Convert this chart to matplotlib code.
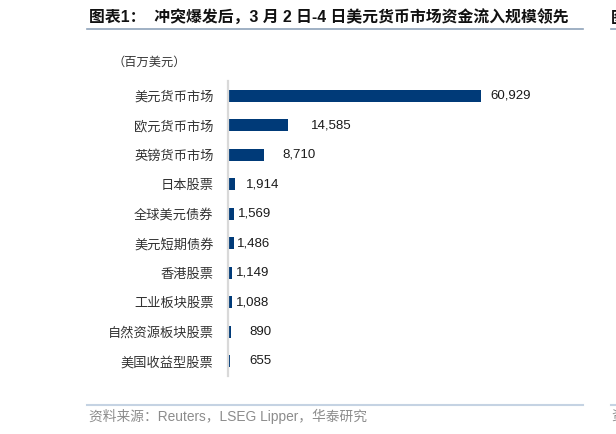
import matplotlib
matplotlib.use("Agg")
import matplotlib.pyplot as plt
from matplotlib.lines import Line2D

# ---- data ----
categories = ["美元货币市场", "欧元货币市场", "英镑货币市场", "日本股票", "全球美元债券",
              "美元短期债券", "香港股票", "工业板块股票", "自然资源板块股票", "美国收益型股票"]
values = [60929, 14585, 8710, 1914, 1569, 1486, 1149, 1088, 890, 655]
title = "图表1：  冲突爆发后，3 月 2 日-4 日美元货币市场资金流入规模领先"
unit_label = "（百万美元）"
source = "资料来源：Reuters，LSEG Lipper，华泰研究"

# ---- style ----
W, H = 616, 434
label_offsets_px = [10, 23, 19, 11, 4, 3, 4, 4, 18, 19]
bar_color = "#003A78"
XMAX = 80000
px_per_max = 253  # pixel length of the longest bar

fig = plt.figure(figsize=(W / 100, H / 100), dpi=100)
ax_left, ax_top, ax_bottom = 227.5, 81, 376
ax_width = XMAX / values[0] * px_per_max
ax = fig.add_axes([ax_left / W, 1 - ax_bottom / H, ax_width / W, (ax_bottom - ax_top) / H])

n = len(categories)
ypos = list(range(n))
ax.barh(ypos, values, height=0.41, color=bar_color)
ax.set_ylim(n - 0.5, -0.5)
ax.set_xlim(0, XMAX)
ax.set_xticks([])
ax.set_yticks(ypos)
ax.set_yticklabels(categories, fontsize=9.5, family=["Noto Sans CJK SC", "DejaVu Sans"], color="#333333")
ax.tick_params(axis="y", length=0, pad=10)
for s in ["top", "right", "bottom"]:
    ax.spines[s].set_visible(False)
ax.spines["left"].set_color("#D9D9D9")
ax.spines["left"].set_linewidth(1.6)

for i, (v, off) in enumerate(zip(values, label_offsets_px)):
    ax.annotate(f"{v:,}", xy=(v, i), xytext=(off, 0), textcoords="offset pixels",
                ha="left", va="center", fontsize=9.5, family="Liberation Sans", color="#1a1a1a")

# ---- figure decorations ----
fam = ["Liberation Sans", "Noto Sans CJK SC", "DejaVu Sans"]
fig.text(89 / W, 1 - 18 / H, title, ha="left", va="center", fontsize=11.4, weight="bold", family=fam, color="#111111")
fig.add_artist(Line2D([87 / W, 583 / W], [1 - 29 / H] * 2, color="#8FA3BA", lw=1.2))
fig.add_artist(Line2D([611 / W, 1.0], [1 - 29 / H] * 2, color="#8FA3BA", lw=1.2))
fig.text(611 / W, 1 - 18 / H, "图", ha="left", va="center", fontsize=11.4, weight="bold", family=fam, color="#111111")

fig.text(149 / W, 1 - 62 / H, unit_label, ha="center", va="center", fontsize=8.8,
         family=["Noto Sans CJK SC", "DejaVu Sans"], color="#333333")

fig.add_artist(Line2D([87 / W, 583 / W], [1 - 405 / H] * 2, color="#C5D3E3", lw=1.5))
fig.add_artist(Line2D([611 / W, 1.0], [1 - 405 / H] * 2, color="#C5D3E3", lw=1.5))
fig.text(89 / W, 1 - 416 / H, source, ha="left", va="center", fontsize=9.9, family=fam, color="#8C8C8C")
fig.text(611 / W, 1 - 416 / H, "资", ha="left", va="center", fontsize=9.9, family=fam, color="#8C8C8C")

fig.savefig("out.png", dpi=100)
